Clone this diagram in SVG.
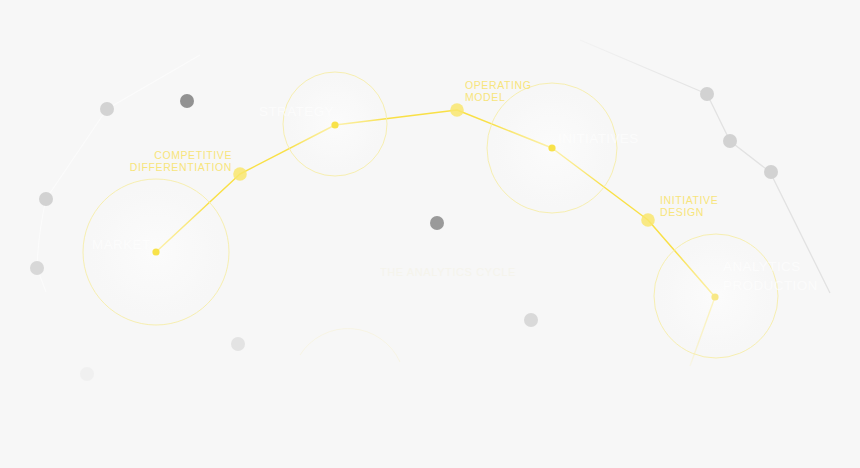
<svg xmlns="http://www.w3.org/2000/svg" width="860" height="468" viewBox="0 0 860 468">
<style>
.ring{fill:url(#glow);stroke:#f6eda8;stroke-width:0.9}
.path{fill:none;stroke:#f9e046;stroke-width:1.5;stroke-linejoin:round}
.hub{fill:#f8e24a}
.stop{fill:#f9e66e;opacity:0.85}
.lbl{font-family:"Liberation Sans",Arial,sans-serif;font-size:10.5px;fill:#f7e57c;letter-spacing:0.6px}
.ghost{font-family:"Liberation Sans",Arial,sans-serif;font-size:13.5px;fill:#ffffff;opacity:0.6;letter-spacing:0.4px}
.wline{fill:none;stroke:#ffffff;stroke-width:1.1;opacity:0.55}
.gline{fill:none;stroke:#e2e2e2;stroke-width:1.3}
</style>
<defs>
<radialGradient id="glow">
<stop offset="0" stop-color="#ffffff" stop-opacity="0.55"/>
<stop offset="0.6" stop-color="#fcfcfc" stop-opacity="0.3"/>
<stop offset="1" stop-color="#f7f7f7" stop-opacity="0"/>
</radialGradient>
<linearGradient id="fadeY" x1="0" y1="0" x2="0" y2="1">
<stop offset="0" stop-color="#f9e66e" stop-opacity="0.9"/>
<stop offset="1" stop-color="#f9e66e" stop-opacity="0.1"/>
</linearGradient>
<linearGradient id="fadeG" x1="0" y1="0" x2="1" y2="0">
<stop offset="0" stop-color="#e2e2e2" stop-opacity="0.2"/>
<stop offset="1" stop-color="#e2e2e2" stop-opacity="1"/>
</linearGradient>
</defs>
<rect width="860" height="468" fill="#f7f7f7"/>

<g id="connectors">
<path class="wline" d="M200 55 L107 109 L46 199 Q38 235 37 268 L46 292"/>
<path d="M580 40 L707 94" stroke="url(#fadeG)" stroke-width="1.3" fill="none"/>
<path class="gline" d="M707 94 L730 141 L770 172 L830 293"/>
<path d="M300 355 A57 57 0 0 1 400 362" fill="none" stroke="#f7efc0" stroke-width="1" opacity="0.35"/>
<path class="path" d="M156 252 L240 174 L335 125 L457 110 L552 148 L648 220 L715 297"/>
<path d="M715 297 L690 366" stroke="url(#fadeY)" stroke-width="1.4" fill="none"/>
</g>

<g id="node-market">
<circle class="ring" cx="156" cy="252" r="73"/>
<text class="ghost" x="92" y="249">MARKET</text>
<circle class="hub" cx="156" cy="252" r="3.6"/>
</g>
<g id="node-strategy">
<circle class="ring" cx="335" cy="124" r="52"/>
<text class="ghost" x="259" y="116">STRATEGY</text>
<circle class="hub" cx="335" cy="125" r="3.6"/>
</g>
<g id="node-initiatives">
<circle class="ring" cx="552" cy="148" r="65"/>
<text class="ghost" x="558" y="143">INITIATIVES</text>
<circle class="hub" cx="552" cy="148" r="3.6"/>
</g>
<g id="node-analytics-production">
<circle class="ring" cx="716" cy="296" r="62"/>
<text class="ghost" x="723" y="271">ANALYTICS</text>
<text class="ghost" x="723" y="290">PRODUCTION</text>
<circle cx="715" cy="297" r="3.6" fill="#f8e886"/>
</g>

<g id="node-competitive-differentiation">
<circle class="stop" cx="240" cy="174" r="6.8"/>
<text class="lbl" x="232" y="159" text-anchor="end">COMPETITIVE</text>
<text class="lbl" x="232" y="171" text-anchor="end">DIFFERENTIATION</text>
</g>
<g id="node-operating-model">
<circle class="stop" cx="457" cy="110" r="6.8"/>
<text class="lbl" x="465" y="89">OPERATING</text>
<text class="lbl" x="465" y="101">MODEL</text>
</g>
<g id="node-initiative-design">
<circle class="stop" cx="648" cy="220" r="6.8"/>
<text class="lbl" x="660" y="204">INITIATIVE</text>
<text class="lbl" x="660" y="216">DESIGN</text>
</g>
<g id="node-cycle">
<text x="380" y="276" font-family="Liberation Sans, Arial, sans-serif" font-size="11px" fill="#f3efd6" opacity="0.35" letter-spacing="0.6">THE ANALYTICS CYCLE</text>
</g>

<g id="dots">
<circle cx="107" cy="109" r="7" fill="#d3d3d3"/>
<circle cx="187" cy="101" r="7" fill="#929292"/>
<circle cx="46" cy="199" r="7" fill="#d2d2d2"/>
<circle cx="37" cy="268" r="7" fill="#d8d8d8"/>
<circle cx="238" cy="344" r="7" fill="#e3e3e3"/>
<circle cx="87" cy="374" r="7" fill="#f0f0f0"/>
<circle cx="437" cy="223" r="7" fill="#9a9a9a"/>
<circle cx="531" cy="320" r="7" fill="#d9d9d9"/>
<circle cx="707" cy="94" r="7" fill="#d2d2d2"/>
<circle cx="730" cy="141" r="7" fill="#d2d2d2"/>
<circle cx="771" cy="172" r="7" fill="#d2d2d2"/>
</g>
</svg>
